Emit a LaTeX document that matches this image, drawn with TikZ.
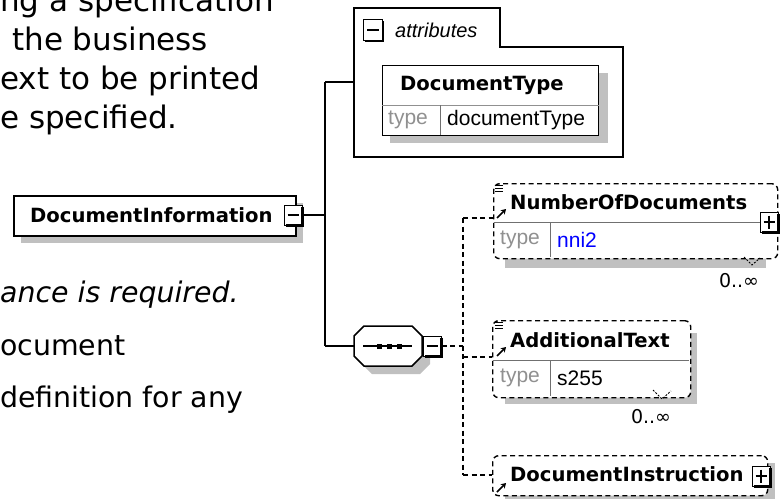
\documentclass[tikz,border=0pt]{standalone}
\usepackage{fontspec}
\setmainfont{DejaVu Sans}
\newfontfamily\lib{Liberation Sans}
\usetikzlibrary{arrows.meta}
\definecolor{shadowgray}{HTML}{C0C0C0}
\definecolor{tgray}{HTML}{909090}
\definecolor{dgray}{HTML}{707070}
\definecolor{nblue}{HTML}{0000FF}
\newcommand\minusmark[1]{%
  \draw[line width=2.5pt] ([yshift=-2pt]#1.north east) -- (#1.south east) -- ([xshift=2pt]#1.south west);
  \draw[line width=1.2pt] ([xshift=4pt]#1.west) -- ([xshift=-4pt]#1.east);}
\newcommand\plusmark[1]{%
  \minusmark{#1}
  \draw[line width=1.2pt] ([yshift=-4pt]#1.north) -- ([yshift=4pt]#1.south);}
\begin{document}
\begin{tikzpicture}[x=1pt,y=-1pt,
  sline/.style={line width=1.5pt, draw=black},
  dline/.style={line width=1.4pt, draw=black, dash pattern=on 5pt off 3.5pt},
  elname/.style={font=\fontsize{19.6}{22}\selectfont\bfseries, inner sep=0pt, anchor=west},
  tlabel/.style={font=\lib\fontsize{21}{24}\selectfont, text=tgray, inner sep=0pt, anchor=west},
  tvalue/.style={font=\lib\fontsize{21}{24}\selectfont, inner sep=0pt, anchor=west},
  prose/.style={font=\fontsize{31}{36}\selectfont, inner sep=0pt, anchor=base west},
  prosetwo/.style={font=\fontsize{28.4}{34}\selectfont, inner sep=0pt, anchor=base west},
  pmbox/.style={draw=black, line width=1pt, fill=white, minimum width=18pt, minimum height=20pt, inner sep=0pt},
  occ/.style={font=\fontsize{19}{22}\selectfont, inner sep=0pt},
  boxnode/.style={fill=white, anchor=north west, inner sep=0pt},
  shadowfill/.style={fill=shadowgray, draw=none},
  eqline/.style={line width=0.9pt},
  refarrow/.style={line width=1.6pt, -{Stealth[length=5pt,width=6pt]}},
  chev/.style={line width=0.9pt, dash pattern=on 2pt off 1.5pt},
]
\useasboundingbox (0,0) rectangle (784,498);

% prose text
\node[prose] (p1) at (0,11) {ng a specification};
\node[prose] (p2) at (12,50) {the business};
\node[prose] (p3) at (0,89) {ext to be printed};
\node[prose] (p4) at (0,128) {e specified.};
\node[prosetwo, font=\fontsize{28.4}{34}\selectfont\itshape] (p5) at (0,302) {ance is required.};
\node[prosetwo] (p6) at (0,355) {ocument};
\node[prosetwo] (p7) at (0,407) {definition for any};

% DocumentInformation
\path[shadowfill] (21,203) rectangle (303,243);
\node[boxnode, sline, minimum width=282pt, minimum height=40pt] (di) at (13,195) {};
\node[elname] (dit) at (30,215) {DocumentInformation};
\node[pmbox] (dimin) at (293,215) {};
\minusmark{dimin}

% spine
\coordinate (spT) at (325,82);
\coordinate (spB) at (325,346);
\coordinate (attrL) at (354,82);
\coordinate (seqL) at (354,346);
\draw[sline] (dimin.east) -- (dimin.east -| spT);
\draw[sline] (spT) -- (spB);
\draw[sline] (spT) -- (attrL);
\draw[sline] (spB) -- (seqL);

% attributes
\draw[sline, fill=white] (354,8) -- (500,8) -- (500,47) -- (623,47) -- (623,157) -- (354,157) -- cycle;
\node[pmbox, minimum width=19pt, minimum height=21pt] (atmin) at (373,30) {};
\minusmark{atmin}
\node[font=\lib\itshape\fontsize{20}{24}\selectfont, inner sep=0pt, anchor=west] (att) at (395,30) {attributes};

% DocumentType
\path[shadowfill] (390,73) rectangle (608,143);
\node[boxnode, draw=black, line width=1.2pt, minimum width=216pt, minimum height=70pt] (dt) at (382,65) {};
\draw[tgray, line width=1pt] ([yshift=-40pt]dt.north west) -- ([yshift=-40pt]dt.north east);
\draw[dgray, line width=1pt] (440,105) -- (440,135);
\node[elname] (dtt) at (400,85) {DocumentType};
\node[tlabel] (dtl) at (388,120) {type};
\node[tvalue] (dtv) at (447,120) {documentType};

% sequence compositor
\path[shadowfill] (372,334) -- (420,334) -- (430,344) -- (430,364) -- (420,374) -- (372,374) -- (362,364) -- (362,344) -- cycle;
\draw[sline, fill=white] (364,326) -- (412,326) -- (422,336) -- (422,356) -- (412,366) -- (364,366) -- (354,356) -- (354,336) -- cycle;
\draw[line width=1.2pt] (363,346) -- (412,346);
\fill (377,343.5) rectangle (382,348.5);
\fill (387,343.5) rectangle (392,348.5);
\fill (397,343.5) rectangle (402,348.5);
\node[pmbox] (seqmin) at (432,346) {};
\minusmark{seqmin}

% dashed tree
\coordinate (dsp) at (463,346);
\coordinate (dspT) at (463,218);
\coordinate (dspB) at (463,475);
\coordinate (nodc) at (493,218);
\coordinate (atc) at (492,357);
\coordinate (dic) at (492,475);
\draw[dline] (seqmin.east) -- (dsp);
\draw[dline] (dspT) -- (dspB);
\draw[dline] (dspT) -- (nodc);
\draw[dline] (dsp |- atc) -- (atc);
\draw[dline] (dspB) -- (dic);

% NumberOfDocuments
\path[shadowfill] (505,196) rectangle (766,268);
\node[boxnode, dline, rounded corners=6pt, minimum width=284pt, minimum height=75pt] (nod) at (493,183) {};
\draw[dgray, line width=1pt] (494,222) -- (768,222);
\draw[dgray, line width=1pt] (550,222) -- (550,257);
\node[elname] (nodt) at (510,202) {NumberOfDocuments};
\node[tlabel] (nodl) at (500,240) {type};
\node[tvalue, text=nblue] (nodv) at (557,240) {nni2};
\node[pmbox] (nodplus) at (769,222) {};
\plusmark{nodplus}
\draw[eqline] (495,185) -- (503,185) (495,188) -- (503,188) (495,191) -- (503,191);
\draw[refarrow] (497,218) -- (506,209);
\draw[chev] (744,257) -- (752,265) -- (760,258);
\node[occ] (nodocc) at (739,281) {0..∞};

% AdditionalText
\path[shadowfill] (505,333) rectangle (697,404);
\node[boxnode, dline, rounded corners=6pt, minimum width=198pt, minimum height=77pt] (adt) at (492,320) {};
\draw[dgray, line width=1pt] (493,360) -- (689,360);
\draw[dgray, line width=1pt] (550,360) -- (550,396);
\node[elname] (adtt) at (510,340) {AdditionalText};
\node[tlabel] (adtl) at (500,378) {type};
\node[tvalue] (adtv) at (557,378) {s255};
\draw[eqline] (495,322) -- (503,322) (495,325) -- (503,325) (495,328) -- (503,328);
\draw[refarrow] (497,356) -- (506,347);
\draw[chev] (653,390) -- (662,399) -- (671,391);
\node[occ] (adtocc) at (651,417) {0..∞};

% DocumentInstruction
\path[shadowfill] (505,463) rectangle (775,503);
\node[boxnode, dline, rounded corners=6pt, minimum width=275pt, minimum height=40pt] (dins) at (492,455) {};
\node[elname] (dinst) at (510,474) {DocumentInstruction};
\node[pmbox] (dinplus) at (761,476) {};
\plusmark{dinplus}
\draw[refarrow] (497,492) -- (506,483);
\end{tikzpicture}
\end{document}
